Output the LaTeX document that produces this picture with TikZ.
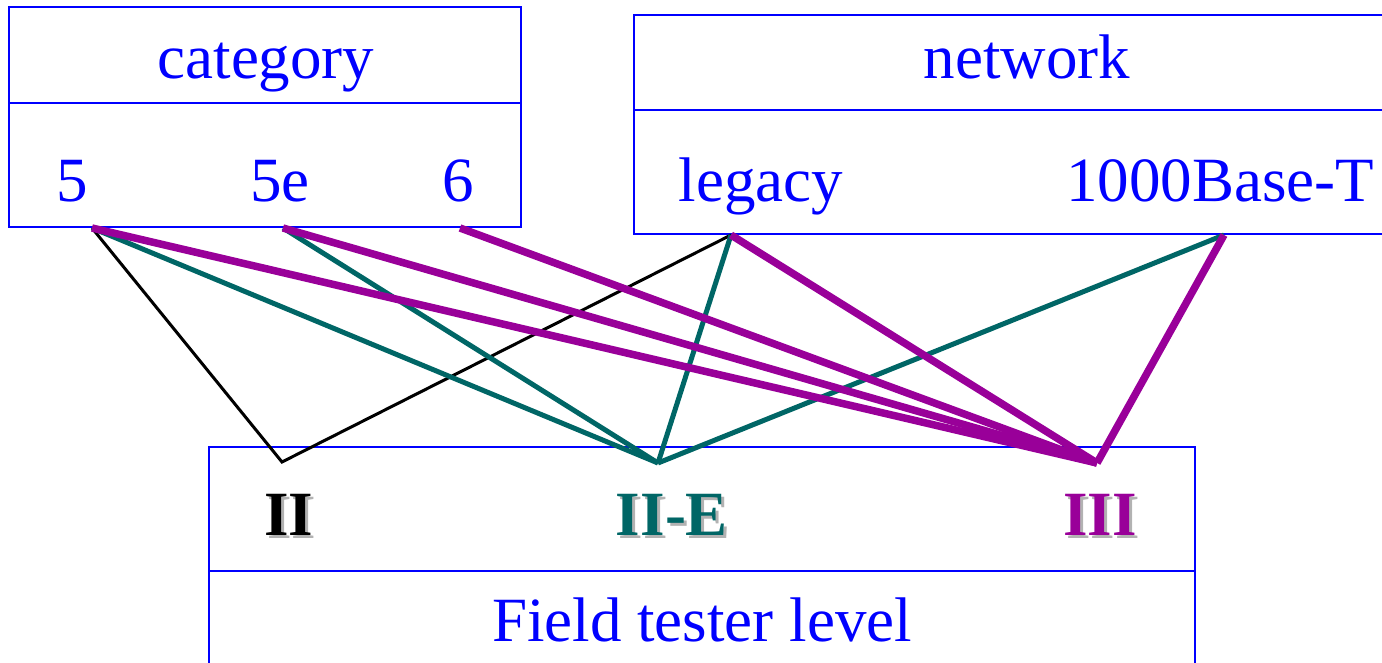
\documentclass[tikz,border=0pt]{standalone}
\usepackage{fontspec}
\setmainfont{Liberation Serif}
\definecolor{tealc}{RGB}{0,102,102}
\definecolor{purp}{RGB}{153,0,153}
\definecolor{boxblue}{RGB}{0,0,255}
\newcommand{\shadowed}[1]{\makebox[0pt][l]{\hspace{3pt}\raisebox{-3pt}{\textcolor{black!30}{#1}}}#1}
\begin{document}
\begin{tikzpicture}[x=1pt,y=-1pt,
  boxline/.style={draw=boxblue,line width=2pt},
  lbl/.style={text=boxblue,font=\fontsize{63}{70}\selectfont,anchor=base,inner sep=0pt},
  lvl/.style={font=\bfseries\fontsize{63}{70}\selectfont,anchor=base,inner sep=0pt},
  linkII/.style={black,line width=3pt},
  linkIIE/.style={tealc,line width=5pt},
  linkIII/.style={purp,line width=7.5pt}]
\useasboundingbox (0,0) rectangle (1382,663);
% boxes
\draw[boxline] (9,7) rectangle (521,227);
\draw[boxline] (9,103) -- (521,103);
\draw[boxline] (634,15) rectangle (1400,234);
\draw[boxline] (634,110) -- (1400,110);
\draw[boxline] (209,447) rectangle (1195,700);
\draw[boxline] (209,571) -- (1195,571);
% texts
\node[lbl] (cat) at (266,79) {category};
\node[lbl] (c5) at (72,202) {5};
\node[lbl] (c5e) at (280,202) {5e};
\node[lbl] (c6) at (458,202) {6};
\node[lbl] (net) at (1027,79) {network};
\node[lbl] (leg) at (761,202) {legacy};
\node[lbl] (gig) at (1220,202) {1000Base-T};
\node[lbl] (ftl) at (702,641) {Field tester level};
\node[lvl] (lII) at (289,535) {\shadowed{II}};
\node[lvl,text=tealc] (lIIE) at (672,535) {\shadowed{II-E}};
\node[lvl,text=purp] (lIII) at (1100,535) {\shadowed{III}};
% connection points
\coordinate (p5) at (92,228);
\coordinate (p5e) at (283,228);
\coordinate (p6) at (460,228);
\coordinate (pleg) at (731,235);
\coordinate (pgig) at (1224,235);
\coordinate (pII) at (282,462);
\coordinate (pIIE) at (658,463);
\coordinate (pIII) at (1097,463);
% links
\draw[linkII] (p5) -- (pII) -- (pleg);
\draw[linkIIE] (p5) -- (pIIE);
\draw[linkIIE] (p5e) -- (pIIE);
\draw[linkIIE] (pleg) -- (pIIE);
\draw[linkIIE] (pgig) -- (pIIE);
\draw[linkIII] (p5) -- (pIII);
\draw[linkIII] (p5e) -- (pIII);
\draw[linkIII] (p6) -- (pIII);
\draw[linkIII] (pleg) -- (pIII);
\draw[linkIII] (pgig) -- (pIII);
\end{tikzpicture}
\end{document}
